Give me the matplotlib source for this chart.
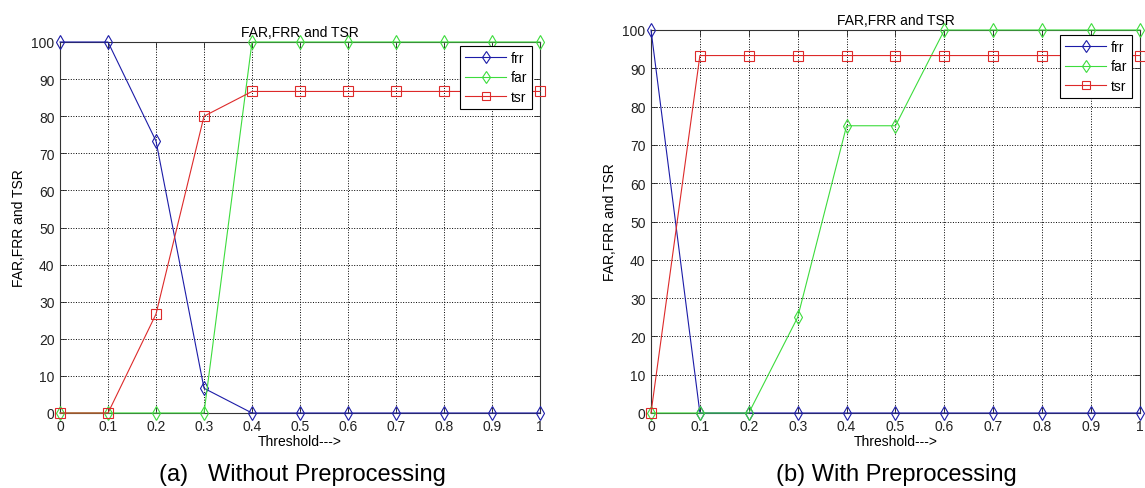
import numpy as np
import matplotlib.pyplot as plt

plt.rcParams['font.family'] = ['Liberation Sans', 'DejaVu Sans']

# threshold values
threshold = [0, 0.1, 0.2, 0.3, 0.4, 0.5, 0.6, 0.7, 0.8, 0.9, 1.0]
tick_labels = ['0', '0.1', '0.2', '0.3', '0.4', '0.5', '0.6', '0.7', '0.8', '0.9', '1']

# (a) without preprocessing
frr_a = [100, 100, 73.3, 6.67, 0, 0, 0, 0, 0, 0, 0]
far_a = [0, 0, 0, 0, 100, 100, 100, 100, 100, 100, 100]
tsr_a = [0, 0, 26.67, 80, 86.67, 86.67, 86.67, 86.67, 86.67, 86.67, 86.67]

# (b) with preprocessing
frr_b = [100, 0, 0, 0, 0, 0, 0, 0, 0, 0, 0]
far_b = [0, 0, 0, 25, 75, 75, 100, 100, 100, 100, 100]
tsr_b = [0, 93.33, 93.33, 93.33, 93.33, 93.33, 93.33, 93.33, 93.33, 93.33, 93.33]

captions = ['(a)   Without Preprocessing', '(b) With Preprocessing']

W, H = 1145, 489
fig = plt.figure(figsize=(W / 100, H / 100), dpi=100)

# axes positions in pixels: left, top, right, bottom
boxes = [(60, 43, 540, 414), (651, 31, 1140, 414)]
legend_boxes = [(532, 47), (1132, 36)]
caption_x = [302, 896]


def draw_panel(box, frr, far, tsr, leg_xy):
    l, t, r, b = box
    ax = fig.add_axes([l / W, 1 - b / H, (r - l) / W, (b - t) / H])
    ax.plot(threshold, frr, color='#1c1ca8', lw=0.8, marker='d', ms=7.5,
            mfc='none', mew=0.8, label='frr', clip_on=False, zorder=3)
    ax.plot(threshold, far, color='#3ddc3d', lw=0.8, marker='d', ms=7.5,
            mfc='none', mew=0.8, label='far', clip_on=False, zorder=3)
    ax.plot(threshold, tsr, color='#dd2a2a', lw=0.8, marker='s', ms=7.5,
            mfc='none', mew=0.8, label='tsr', clip_on=False, zorder=3)
    ax.set_xlim(0, 1)
    ax.set_ylim(0, 100)
    ax.set_xticks(threshold)
    ax.set_xticklabels(tick_labels)
    ax.set_yticks(np.arange(0, 101, 10))
    ax.tick_params(direction='in', top=True, right=True, labelsize=10,
                   length=4, width=0.6, pad=4, colors='#222222')
    ax.grid(True, linestyle=':', color='black', lw=0.7)
    for s in ax.spines.values():
        s.set_linewidth(0.8)
        s.set_color('#333333')
    ax.set_title('FAR,FRR and TSR', fontsize=10, pad=4)
    ax.set_xlabel('Threshold--->', fontsize=10, labelpad=1)
    ax.set_ylabel('FAR,FRR and TSR', fontsize=10, labelpad=4)
    lx, ly = leg_xy
    leg = ax.legend(loc='upper right', bbox_to_anchor=(lx / W, 1 - ly / H),
                    bbox_transform=fig.transFigure, fontsize=10,
                    fancybox=False, framealpha=1, edgecolor='black',
                    handlelength=3.0, handletextpad=0.3, borderpad=0.35,
                    labelspacing=0.4, borderaxespad=0, markerscale=0.85)
    leg.get_frame().set_linewidth(0.8)
    return ax


draw_panel(boxes[0], frr_a, far_a, tsr_a, legend_boxes[0])
draw_panel(boxes[1], frr_b, far_b, tsr_b, legend_boxes[1])

for cx, cap in zip(caption_x, captions):
    fig.text(cx / W, 1 - 475 / H, cap, fontsize=17, ha='center', va='center')

fig.savefig('out.png', dpi=100)
